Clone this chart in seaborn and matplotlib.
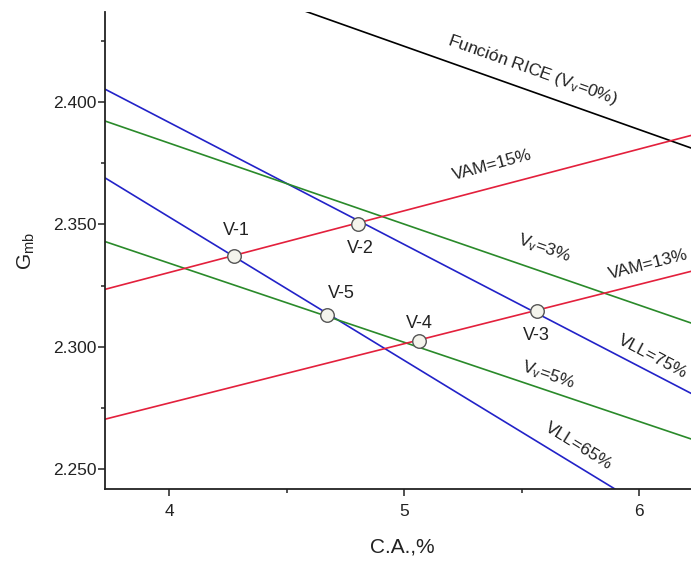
import matplotlib
matplotlib.use("Agg")
import matplotlib.pyplot as plt
from matplotlib.ticker import MultipleLocator, FormatStrFormatter
import seaborn as sns
import pandas as pd

# values of each line at the left and right edge of the plot
x_ends = [3.726, 6.255]
rice = [2.466, 2.380]
vll75 = [2.4052, 2.2793]
vll65 = [2.369, 2.221]
vv3 = [2.3922, 2.3086]
vv5 = [2.3430, 2.2613]
vam15 = [2.3235, 2.3872]
vam13 = [2.2705, 2.3317]

# trial mixes
mix_names = ['V-1', 'V-2', 'V-3', 'V-4', 'V-5']
mix_ca = [4.273, 4.801, 5.563, 5.061, 4.672]
mix_gmb = [2.3373, 2.3502, 2.3148, 2.3023, 2.3132]

lines = {'rice': rice, 'vll75': vll75, 'vll65': vll65, 'vv3': vv3,
         'vv5': vv5, 'vam15': vam15, 'vam13': vam13}
rows = []
for name, ys in lines.items():
    for x, y in zip(x_ends, ys):
        rows.append((name, x, y))
df = pd.DataFrame(rows, columns=['line', 'ca', 'gmb'])

blue = '#2222c8'
green = '#2a8a2a'
red = '#e3203c'
palette = {'rice': 'black', 'vll75': blue, 'vll65': blue, 'vv3': green,
           'vv5': green, 'vam15': red, 'vam13': red}

sns.set_style("ticks")
plt.rcParams['font.family'] = ['Liberation Sans', 'DejaVu Sans']
plt.rcParams['mathtext.default'] = 'regular'

fig = plt.figure(figsize=(6.91, 5.63), dpi=100)
ax = fig.add_axes([0.152, 0.1314, 0.86, 0.8473])

sns.lineplot(data=df, x='ca', y='gmb', hue='line', palette=palette,
             legend=False, linewidth=1.2, ax=ax)
sns.scatterplot(x=mix_ca, y=mix_gmb, s=95, color='#f4f4ec', edgecolor='#555555',
                linewidth=1.0, zorder=5, ax=ax)

offsets = {'V-1': (2, 18), 'V-2': (2, -18), 'V-3': (0, -18), 'V-4': (0.5, 13), 'V-5': (10, 15)}
for name, x, y in zip(mix_names, mix_ca, mix_gmb):
    ax.annotate(name, (x, y), xytext=offsets[name], textcoords='offset points',
                ha='center', va='center', fontsize=13, color='#222222')

txt = dict(ha='center', va='center', fontsize=12.5, color='#222222', rotation_mode='anchor')
ax.text(5.546, 2.4131, r'Función RICE (V$_v$=0%)', rotation=-19.6, **txt)
ax.text(5.375, 2.3743, 'VAM=15%', rotation=15, **txt)
ax.text(6.04, 2.3335, 'VAM=13%', rotation=14.4, **txt)
ax.text(5.596, 2.3403, r'V$_v$=3%', rotation=-19.3, **txt)
ax.text(6.058, 2.2958, 'VLL=75%', rotation=-27.8, **txt)
ax.text(5.611, 2.2886, r'V$_v$=5%', rotation=-18.9, **txt)
ax.text(5.742, 2.2595, 'VLL=65%', rotation=-31.7, **txt)

ax.set_xlim(3.726, 6.255)
ax.set_ylim(2.242, 2.4367)
ax.xaxis.set_major_locator(MultipleLocator(1))
ax.xaxis.set_minor_locator(MultipleLocator(0.5))
ax.yaxis.set_major_locator(MultipleLocator(0.05))
ax.yaxis.set_minor_locator(MultipleLocator(0.025))
ax.yaxis.set_major_formatter(FormatStrFormatter('%.3f'))
ax.tick_params(which='major', length=5, width=1.1, labelsize=12.5, colors='#222222', pad=6)
ax.tick_params(which='minor', length=3, width=1.1, colors='#222222')
ax.tick_params(axis='y', pad=1)
sns.despine(ax=ax)
for s in ['left', 'bottom']:
    ax.spines[s].set_linewidth(1.3)
    ax.spines[s].set_color('#222222')

ax.set_xlabel('C.A.,%', fontsize=15, color='#222222', labelpad=13)
ax.set_ylabel(r'G$_{mb}$', fontsize=15, color='#222222', labelpad=12)

fig.savefig('out.png', dpi=100)
